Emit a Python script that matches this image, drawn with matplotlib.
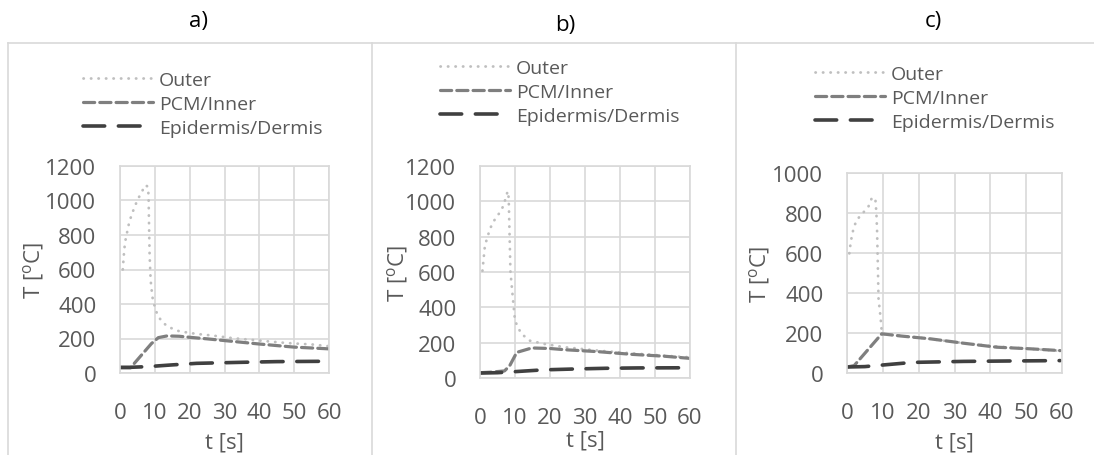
import matplotlib
matplotlib.use("Agg")
import matplotlib.pyplot as plt
from matplotlib.lines import Line2D

W, H = 1094, 456
TEXT = "#595959"
GRID = "#d9d9d9"

# panel a
A_OUTER_T = [0.8, 1.2, 1.5, 2.0, 2.5, 3.2, 4.1, 5.0, 6.1, 7.3, 8.0, 8.2, 8.3, 8.5, 8.8, 9.3, 9.9, 10.7, 12.1, 14.0, 17.0, 21.8, 26.6, 32.4, 40.0, 47.7, 55.4, 60.0]
A_OUTER_V = [600, 711, 763, 812, 860, 909, 958, 1002, 1045, 1089, 1080, 1030, 900, 682, 537, 440, 391, 339, 295, 266, 242, 227, 217, 202, 188, 174, 165, 155]
A_PCM_T = [0, 3, 6, 9, 11, 13.5, 17, 20, 25, 30, 35, 40, 45, 50, 55, 60]
A_PCM_V = [30, 30, 100, 170, 205, 215, 213, 207, 198, 188, 178, 168, 159, 150, 145, 140]
A_EPI_T = [0, 3, 8, 15, 22, 35, 45, 60]
A_EPI_V = [33, 33, 37, 47, 56, 62, 66, 68]

# panel b
B_OUTER_T = [0.7, 1.4, 2.2, 2.9, 4.3, 5.7, 6.7, 7.9, 8.2, 8.4, 8.7, 9.5, 10.0, 11.1, 11.9, 14.3, 18.6, 24.3, 33.8, 43.3, 52.9, 60]
B_OUTER_V = [607, 749, 802, 847, 900, 938, 975, 1057, 1020, 850, 600, 428, 324, 277, 249, 211, 192, 174, 155, 140, 126, 117]
B_PCM_T = [0, 3, 7, 8.5, 10.5, 14.8, 20, 24.3, 33.8, 43.3, 52.9, 60]
B_PCM_V = [30, 33, 40, 70, 145, 170, 167, 160, 149, 134, 123, 111]
B_EPI_T = [0, 5, 10, 18, 27, 36, 45, 60]
B_EPI_V = [28, 30, 36, 46, 51, 55, 57, 58]

# panel c
C_OUTER_T = [0.65, 1.0, 1.4, 1.9, 2.7, 4.4, 6.0, 6.9, 7.9, 8.2, 8.4, 8.6, 8.8, 9.4, 9.7, 10.0, 20, 30, 40, 50, 60]
C_OUTER_V = [598, 648, 690, 727, 765, 799, 833, 874, 874, 800, 707, 539, 372, 271, 205, 195, 177, 155, 135, 122, 110]
C_PCM_T = [0, 2, 9.7, 15, 23.2, 32.5, 41.8, 51.1, 59.5]
C_PCM_V = [30, 37, 196, 185, 171, 149, 129, 121, 112]
C_EPI_T = [0, 5, 8.1, 18.3, 32.5, 45, 59.5]
C_EPI_V = [30, 32, 37, 53, 58, 60, 62]

LABELS = ["Outer", "PCM/Inner", "Epidermis/Dermis"]
X_TICKS = [0, 10, 20, 30, 40, 50, 60]

PANELS = [
    ("a)", (A_OUTER_T, A_OUTER_V), (A_PCM_T, A_PCM_V), (A_EPI_T, A_EPI_V), 1200),
    ("b)", (B_OUTER_T, B_OUTER_V), (B_PCM_T, B_PCM_V), (B_EPI_T, B_EPI_V), 1200),
    ("c)", (C_OUTER_T, C_OUTER_V), (C_PCM_T, C_PCM_V), (C_EPI_T, C_EPI_V), 1000),
]

# pixel boxes: (left, top, right, bottom)
AX_BOX = [(120, 167, 329, 374), (480, 167, 690, 379), (847, 174, 1062, 374)]
TITLE_POS = [(198, 22), (565, 25), (933, 22)]
LEGEND_POS = [(83, 72), (440, 60), (815, 66)]
YLABEL_X = [33, 397, 760]
XLABEL_Y = [443, 441, 443]
FRAME_X = [8, 372, 736]

STYLES = [
    dict(color="#bfbfbf", lw=2.0, linestyle=(0, (0.1, 2.6)), dash_capstyle="round"),
    dict(color="#7f7f7f", lw=2.3, linestyle=(0, (3.5, 1.6)), dash_capstyle="round"),
    dict(color="#404040", lw=2.6, linestyle=(0, (6.0, 3.8)), dash_capstyle="round"),
]

plt.rcParams["font.family"] = ["Open Sans", "DejaVu Sans"]
plt.rcParams["mathtext.fontset"] = "custom"
plt.rcParams["mathtext.rm"] = "Open Sans"

fig = plt.figure(figsize=(W / 100, H / 100), dpi=100)


def fx(x):
    return x / W


def fy(y):
    return 1 - y / H


# panel frames
fig.add_artist(Line2D([fx(FRAME_X[0]), 1], [fy(44), fy(44)], color=GRID, lw=1.2, transform=fig.transFigure))
for x in FRAME_X:
    fig.add_artist(Line2D([fx(x), fx(x)], [fy(44), 0], color=GRID, lw=1.2, transform=fig.transFigure))

for i, (title, outer, pcm, epi, ymax) in enumerate(PANELS):
    l, t, r, b = AX_BOX[i]
    ax = fig.add_axes([fx(l), fy(b), fx(r - l), (b - t) / H])
    lines = []
    for (xs, ys), style, label in zip([outer, pcm, epi], STYLES, LABELS):
        (ln,) = ax.plot(xs, ys, label=label, **style)
        lines.append(ln)
    ax.set_xlim(0, 60)
    ax.set_ylim(0, ymax)
    ax.set_xticks(X_TICKS)
    ax.set_yticks(range(0, ymax + 1, 200))
    ax.grid(True, color=GRID, lw=1.2)
    ax.set_axisbelow(True)
    for s in ax.spines.values():
        s.set_color(GRID)
        s.set_linewidth(1.2)
    ax.tick_params(length=0, labelsize=16, labelcolor=TEXT)
    ax.tick_params(axis="y", pad=17)
    ax.tick_params(axis="x", pad=21)
    ax.set_xlabel("t [s]", fontsize=16, color=TEXT)
    ax.set_ylabel(r"T [$^\mathrm{o}$C]", fontsize=16, color=TEXT)
    ax.xaxis.set_label_coords((l + r) / 2 / W, fy(XLABEL_Y[i]), transform=fig.transFigure)
    ax.xaxis.label.set_va("center")
    ax.yaxis.set_label_coords(fx(YLABEL_X[i]), fy((t + b) / 2), transform=fig.transFigure)
    ax.yaxis.label.set_va("center")

    tx, ty = TITLE_POS[i]
    fig.text(fx(tx), fy(ty), title, ha="center", va="center", fontsize=16, color="black")

    lx, ly = LEGEND_POS[i]
    leg = ax.legend(
        handles=lines,
        loc="upper left",
        bbox_to_anchor=(fx(lx), fy(ly)),
        bbox_transform=fig.transFigure,
        frameon=False,
        fontsize=14,
        handlelength=3.6,
        handletextpad=0.3,
        labelspacing=0.31,
        borderpad=0,
        borderaxespad=0,
    )
    for txt in leg.get_texts():
        txt.set_color(TEXT)

fig.savefig("out.png", dpi=100)
